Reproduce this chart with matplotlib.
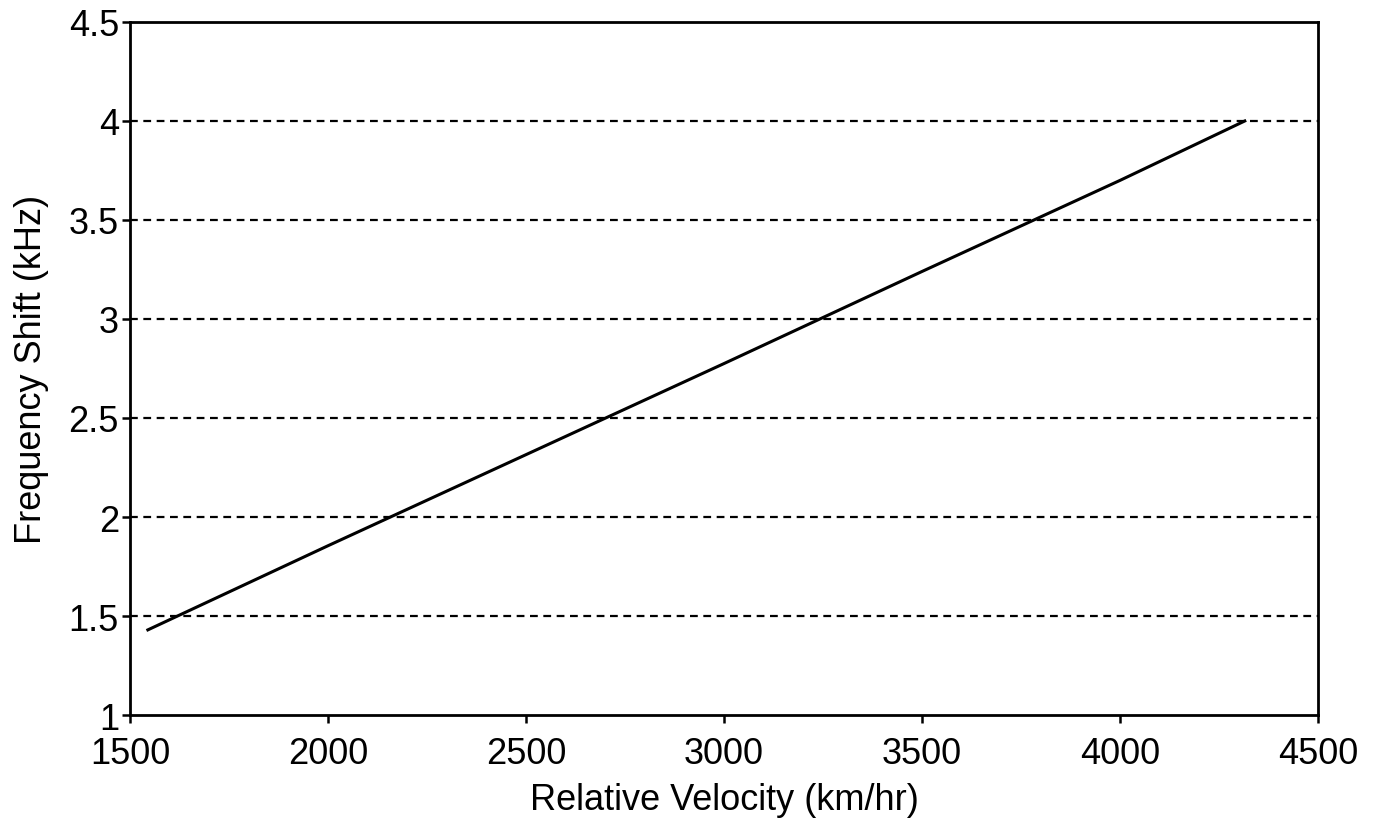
import matplotlib
matplotlib.use("Agg")
import matplotlib.pyplot as plt

# values
velocity = [1545, 2000, 2500, 3000, 3500, 4000, 4315]
freq_shift = [1.43, 1.855, 2.315, 2.775, 3.24, 3.70, 4.00]

x_ticks = [1500, 2000, 2500, 3000, 3500, 4000, 4500]
y_ticks = [1, 1.5, 2, 2.5, 3, 3.5, 4, 4.5]
y_labels = ["1", "1.5", "2", "2.5", "3", "3.5", "4", "4.5"]

plt.rcParams["font.family"] = ["Liberation Sans", "DejaVu Sans"]

fig = plt.figure(figsize=(13.79, 8.2), dpi=100)
ax = fig.add_axes([0.0943, 0.1268, 0.8615, 0.8452])

for y in y_ticks[1:-1]:
    ax.axhline(y, color="black", lw=1.6, ls=(0, (3.5, 2.5)), zorder=1)

ax.plot(velocity, freq_shift, color="black", lw=2.2, zorder=2)

ax.set_xlim(1500, 4500)
ax.set_ylim(1, 4.5)
ax.set_xticks(x_ticks)
ax.set_yticks(y_ticks)
ax.set_yticklabels(y_labels)
ax.tick_params(direction="out", length=6, width=1.8, labelsize=26)
ax.tick_params(axis="x", pad=9)
ax.tick_params(axis="y", pad=2)
for s in ax.spines.values():
    s.set_linewidth(2)

ax.set_xlabel("Relative Velocity (km/hr)", fontsize=26, labelpad=8)
ax.set_ylabel("Frequency Shift (kHz)", fontsize=26, labelpad=14)

fig.savefig("out.png", dpi=100)
